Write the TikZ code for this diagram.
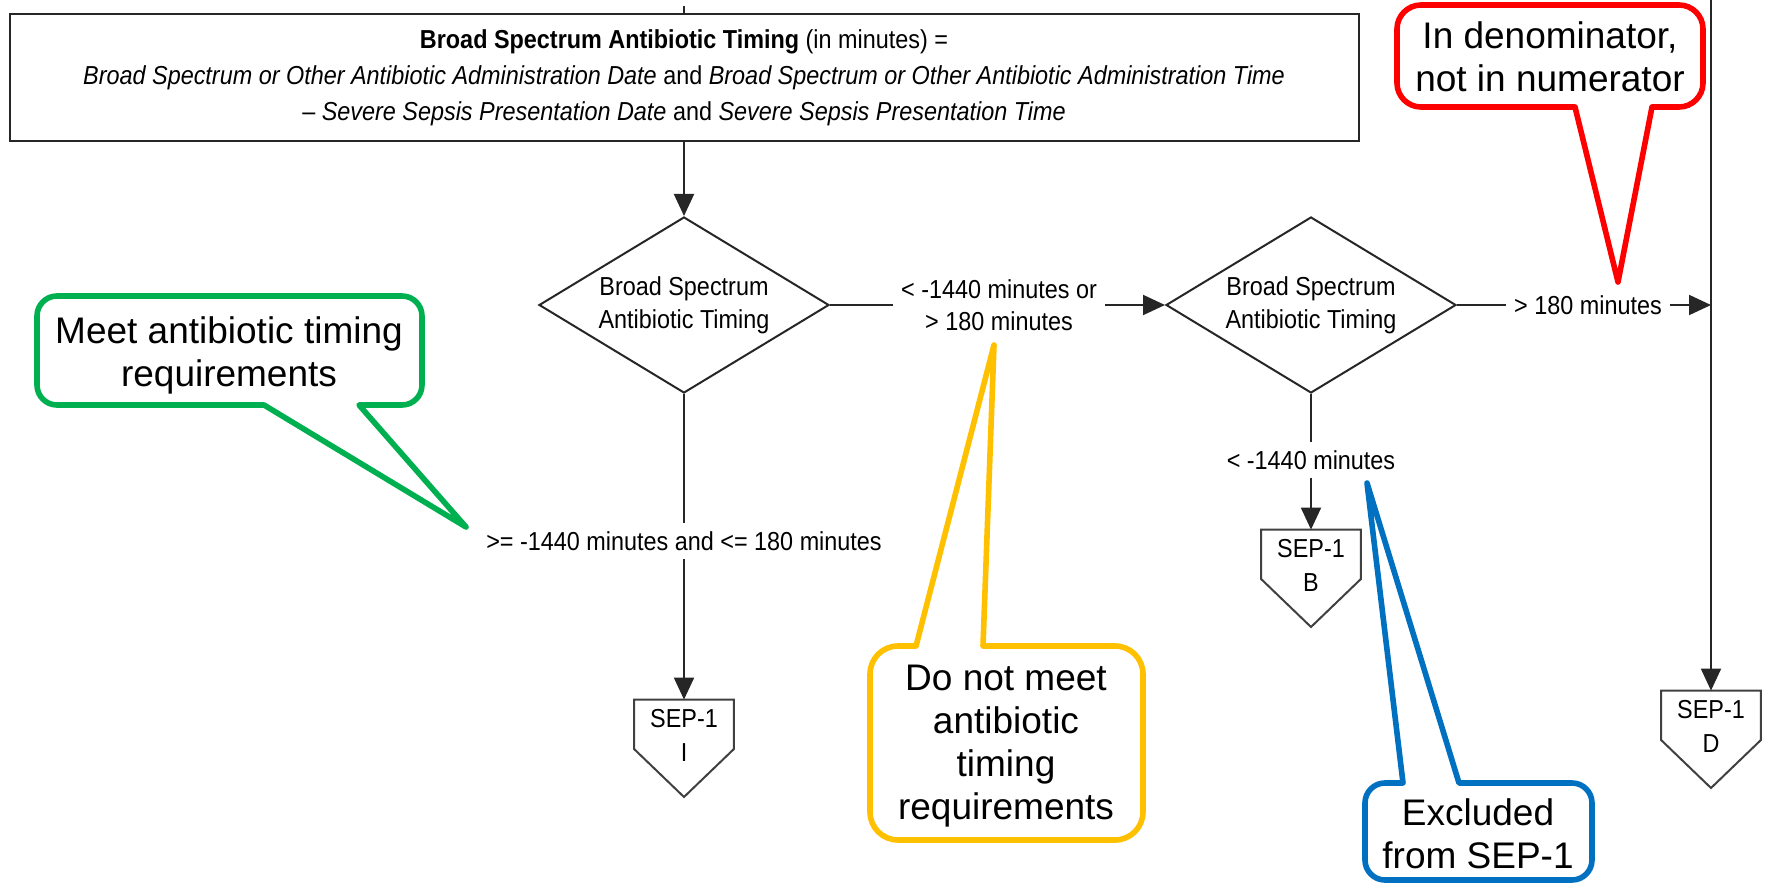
\documentclass[tikz,border=0pt]{standalone}
\usepackage{fontspec}
\setmainfont{Liberation Sans}
\newfontfamily\chartfont[FakeStretch=0.9]{Liberation Sans}
\usetikzlibrary{shapes.geometric,arrows.meta}

\definecolor{notegreen}{RGB}{0,176,80}
\definecolor{noteyellow}{RGB}{255,192,0}
\definecolor{noteblue}{RGB}{0,112,192}
\definecolor{notered}{RGB}{255,0,0}

\tikzset{
  flow/.style={draw=black!85, line width=1pt},
  arr/.style={flow, -{Triangle[length=11pt,width=10pt]}},
  formula/.style={draw=black!85, line width=1pt, minimum width=674.5pt, minimum height=63.5pt,
    align=center, font=\chartfont\fontsize{13}{18}\selectfont},
  decision/.style={diamond, draw=black!85, line width=1pt, aspect=1.65, minimum width=145pt,
    minimum height=88pt, inner sep=0pt, align=center, font=\chartfont\fontsize{13}{16.5}\selectfont},
  cond/.style={align=center, inner sep=4pt, font=\chartfont\fontsize{13}{16}\selectfont},
  offpage/.style={minimum width=49.5pt, minimum height=35pt, inner sep=0pt, align=center,
    font=\chartfont\fontsize{13}{17}\selectfont},
  note/.style={line width=2.8pt, fill=white, line join=round},
  notetext/.style={align=center, font=\fontsize{18.5}{21.5}\selectfont}
}

\begin{document}
\begin{tikzpicture}[x=0.5pt,y=-0.5pt]
  \useasboundingbox (0,0) rectangle (1769,883);

  % formula box and decisions
  \node[formula] (timing) at (684,78) {\textbf{Broad Spectrum Antibiotic Timing} (in minutes) =\\
    \textit{Broad Spectrum or Other Antibiotic Administration Date} and \textit{Broad Spectrum or Other Antibiotic Administration Time}\\
    \textendash{} \textit{Severe Sepsis Presentation Date} and \textit{Severe Sepsis Presentation Time}};
  \node[decision] (d1) at (684,305) {Broad Spectrum\\Antibiotic Timing};
  \node[decision] (d2) at (1311,305) {Broad Spectrum\\Antibiotic Timing};

  % branch labels
  \node[cond] (outside) at (999,305) {< -1440 minutes or\\> 180 minutes};
  \node[cond] (late) at (1588,305) {> 180 minutes};
  \node[cond] (within) at (684,541) {>= -1440 minutes and <= 180 minutes};
  \node[cond] (early) at (1311,460) {< -1440 minutes};

  % off-page connectors
  \node[offpage] (sepI) at (684,735) {SEP-1\\I};
  \node[offpage] (sepB) at (1311,565) {SEP-1\\B};
  \node[offpage] (sepD) at (1711,726) {SEP-1\\D};
  \foreach \n in {sepI,sepB,sepD}
    \draw[draw=black!75, line width=1pt] (\n.north west) -- (\n.north east) -- ([yshift=-7pt]\n.east)
      -- ([yshift=-31pt]\n.center) -- ([yshift=-7pt]\n.west) -- cycle;

  \coordinate (entry) at (684,6);
  \coordinate (top) at (1711,0);
  \coordinate (join) at (1711,305);

  \draw[flow] (entry) -- (timing);
  \draw[arr] (timing) -- (d1);
  \draw[flow] (d1) -- (outside);
  \draw[arr] (outside) -- (d2);
  \draw[flow] (d2) -- (late);
  \draw[arr] (late) -- (join);
  \draw[arr] (top) -- (sepD);
  \draw[flow] (d1) -- (within);
  \draw[arr] (within) -- (sepI);
  \draw[flow] (d2) -- (early);
  \draw[arr] (early) -- (sepB);

  % callouts
  \draw[note, draw=notegreen] (359,405) -- (466,527) -- (264,405) [rounded corners=10pt]
    -- (37,405) -- (37,296) -- (422,296) -- (422,405) [sharp corners] -- cycle;
  \node[notetext] (meet) at (229,355) {Meet antibiotic timing\\requirements};

  \draw[note, draw=noteyellow] (916,646) -- (994,345) -- (983,646) [rounded corners=14pt]
    -- (1143,646) -- (1143,840) -- (870,840) -- (870,646) [sharp corners] -- cycle;
  \node[notetext] (notmeet) at (1006,746) {Do not meet\\antibiotic\\timing\\requirements};

  \draw[note, draw=noteblue] (1403,783) -- (1367,483) -- (1459,783) [rounded corners=10pt]
    -- (1592,783) -- (1592,880) -- (1365,880) -- (1365,783) [sharp corners] -- cycle;
  \node[notetext] (excluded) at (1478,834) {Excluded\\from SEP-1};

  \draw[note, draw=notered] (1652,107) -- (1618,282) -- (1575,107) [rounded corners=12pt]
    -- (1397,107) -- (1397,5) -- (1703,5) -- (1703,107) [sharp corners] -- cycle;
  \node[notetext] (denom) at (1550,57) {In denominator,\\not in numerator};
\end{tikzpicture}
\end{document}
